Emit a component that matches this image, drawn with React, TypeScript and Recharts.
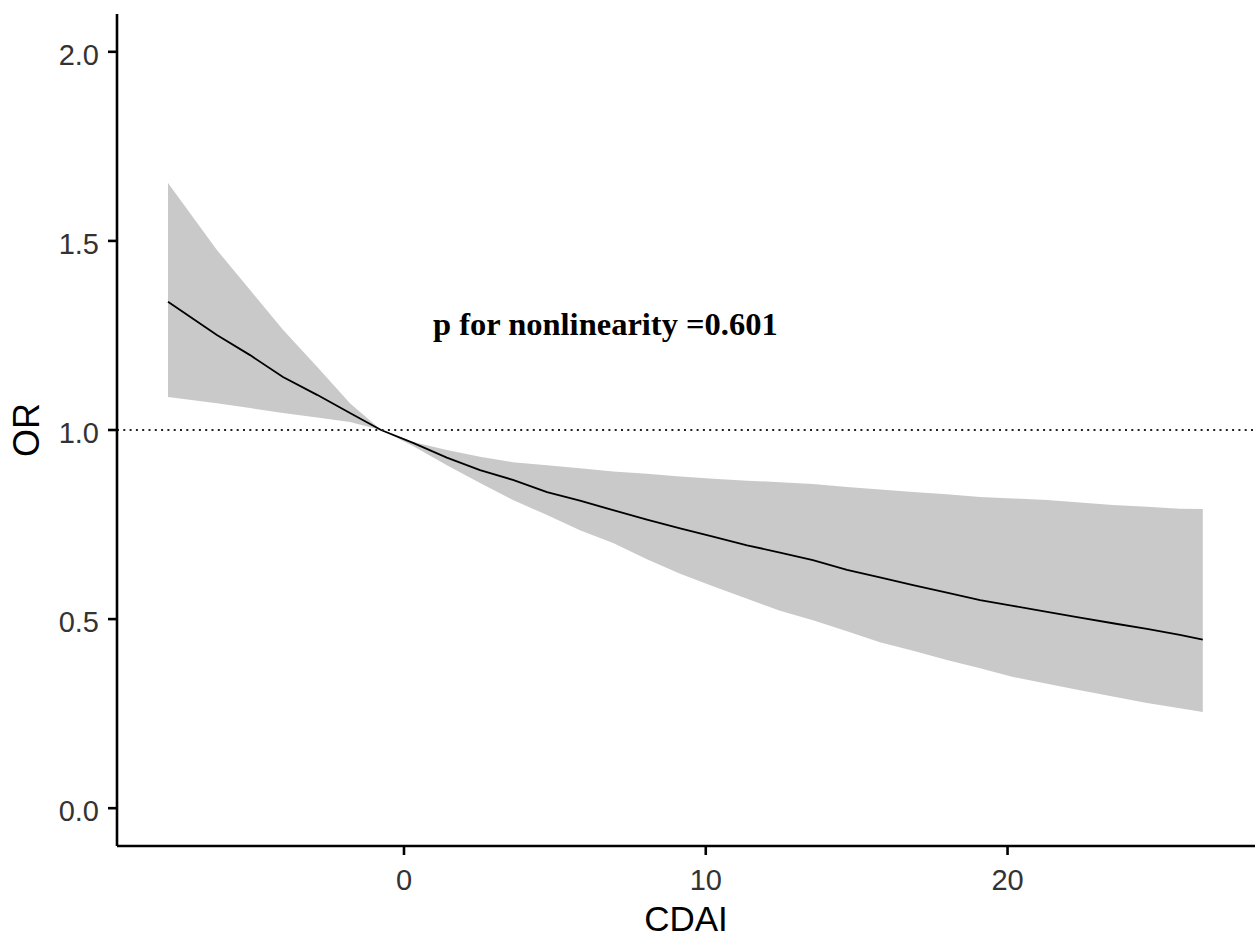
import React from 'react';
import { ComposedChart, Area, Line, XAxis, YAxis, ReferenceLine, ReferenceDot } from 'recharts';

// CDAI values (x)
const cdai = [-7.82, -6.2, -5.1, -4.01, -2.88, -1.79, -0.76, 0.3, 1.42, 2.52, 3.61, 4.74, 5.83, 6.93, 8.05, 9.15, 10.24, 11.37, 12.46, 13.55, 14.68, 15.77, 16.87, 17.99, 19.09, 20.18, 21.31, 22.4, 23.49, 24.62, 25.71, 26.47];
// Odds ratio (fitted line)
const orValues = [1.339, 1.251, 1.198, 1.14, 1.093, 1.045, 1.0, 0.966, 0.927, 0.894, 0.868, 0.836, 0.813, 0.788, 0.763, 0.74, 0.718, 0.695, 0.676, 0.656, 0.63, 0.61, 0.59, 0.57, 0.55, 0.535, 0.519, 0.504, 0.489, 0.474, 0.458, 0.446];
// Lower CI bound
const lowerCI = [1.087, 1.071, 1.058, 1.045, 1.033, 1.021, 1.0, 0.958, 0.907, 0.86, 0.815, 0.775, 0.735, 0.701, 0.658, 0.62, 0.587, 0.554, 0.522, 0.497, 0.468, 0.439, 0.416, 0.392, 0.37, 0.347, 0.329, 0.312, 0.295, 0.278, 0.264, 0.254];
// Upper CI bound
const upperCI = [1.653, 1.476, 1.37, 1.265, 1.167, 1.071, 1.0, 0.968, 0.947, 0.929, 0.915, 0.907, 0.899, 0.89, 0.884, 0.877, 0.871, 0.866, 0.862, 0.857, 0.849, 0.843, 0.836, 0.83, 0.823, 0.819, 0.815, 0.808, 0.802, 0.797, 0.792, 0.791];

const xTicks = [0, 10, 20];
const yTicks = [0, 0.5, 1, 1.5, 2];
const xTitle = 'CDAI';
const yTitle = 'OR';
const annotation = 'p for nonlinearity =0.601';
const annotationPos = { x: 0.96, y: 1.251 };

const data = cdai.map((x, i) => ({ cdai: x, or: orValues[i], band: [lowerCI[i], upperCI[i]] }));

const SANS = '"Liberation Sans", Arial, Helvetica, sans-serif';
const SERIF = '"Liberation Serif", "Times New Roman", serif';

const XTick = (props: any) => {
  const { x, y, payload } = props;
  return (
    <text x={x} y={y} dy={20} textAnchor="middle" fontFamily={SANS} fontSize={29} fill="#333333">
      {payload.value}
    </text>
  );
};

const YTick = (props: any) => {
  const { x, y, payload } = props;
  return (
    <text x={x} y={y} dy={13} textAnchor="end" fontFamily={SANS} fontSize={29} fill="#333333">
      {Number(payload.value).toFixed(1)}
    </text>
  );
};

const XTitle = (props: any) => {
  const vb = props.viewBox || {};
  return (
    <text x={vb.x + vb.width / 2} y={vb.y + 85} textAnchor="middle" fontFamily={SANS} fontSize={35} fill="#000">
      {xTitle}
    </text>
  );
};

const YTitle = (props: any) => {
  const vb = props.viewBox || {};
  const cx = vb.x + 39;
  const cy = vb.y + vb.height / 2;
  return (
    <text x={cx} y={cy} transform={`rotate(-90, ${cx}, ${cy})`} textAnchor="middle" fontFamily={SANS} fontSize={36} fill="#000">
      {yTitle}
    </text>
  );
};

const Annotation = (props: any) => {
  const vb = props.viewBox || {};
  return (
    <text x={vb.x} y={vb.y} textAnchor="start" fontFamily={SERIF} fontWeight="bold" fontSize={32.5} fill="#000">
      {annotation}
    </text>
  );
};

export default function App() {
  return (
    <div style={{ position: 'absolute', left: 0, top: 0, width: 1255, height: 939, background: '#fff' }}>
      <ComposedChart width={1255} height={939} data={data} margin={{ top: 14, right: 0, bottom: 0, left: 0 }}>
        <XAxis
          type="number"
          dataKey="cdai"
          domain={[-9.51, 28.2]}
          allowDataOverflow
          ticks={xTicks}
          interval={0}
          height={93}
          tickSize={9}
          tickMargin={15}
          tick={<XTick />}
          axisLine={{ stroke: '#000', strokeWidth: 2.6 }}
          tickLine={{ stroke: '#000', strokeWidth: 2.6 }}
          label={XTitle}
        />
        <YAxis
          type="number"
          domain={[-0.1, 2.1]}
          allowDataOverflow
          ticks={yTicks}
          interval={0}
          width={117}
          tickSize={9}
          tickMargin={9}
          tick={<YTick />}
          axisLine={{ stroke: '#000', strokeWidth: 2.6 }}
          tickLine={{ stroke: '#000', strokeWidth: 2.6 }}
          label={YTitle}
        />
        <Area
          type="linear"
          dataKey="band"
          fill="#c9c9c9"
          fillOpacity={1}
          stroke="none"
          dot={false}
          activeDot={false}
          isAnimationActive={false}
        />
        <Line
          type="linear"
          dataKey="or"
          stroke="#000"
          strokeWidth={1.8}
          dot={false}
          activeDot={false}
          isAnimationActive={false}
        />
        <ReferenceLine y={1} stroke="#222" strokeWidth={2} strokeDasharray="2 4.3" />
        <ReferenceDot x={annotationPos.x} y={annotationPos.y} r={0} fill="none" stroke="none" label={Annotation} />
      </ComposedChart>
    </div>
  );
}
